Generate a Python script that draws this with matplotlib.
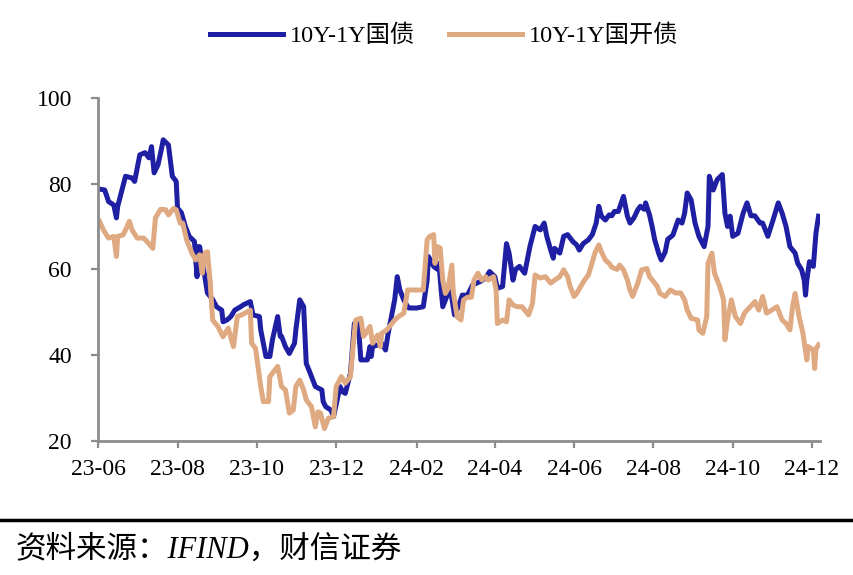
import pandas as pd
import matplotlib
matplotlib.use("Agg")
import matplotlib.pyplot as plt
import matplotlib.dates as mdates
from matplotlib.lines import Line2D

plt.rcParams['font.family'] = ['Liberation Serif', 'Noto Sans CJK SC', 'DejaVu Sans']
plt.rcParams['axes.unicode_minus'] = False

# 10Y-1Y 国债 利差 (bp)
gz_dates = [
    "2023-06-02", "2023-06-06", "2023-06-09", "2023-06-13", "2023-06-15", "2023-06-16",
    "2023-06-20", "2023-06-22", "2023-06-27", "2023-06-29", "2023-07-03", "2023-07-07",
    "2023-07-10", "2023-07-12", "2023-07-14", "2023-07-17", "2023-07-20", "2023-07-21",
    "2023-07-25", "2023-07-28", "2023-07-31", "2023-08-01", "2023-08-04", "2023-08-07",
    "2023-08-10", "2023-08-14", "2023-08-16", "2023-08-17", "2023-08-18", "2023-08-22",
    "2023-08-24", "2023-08-28", "2023-08-31", "2023-09-04", "2023-09-05", "2023-09-08",
    "2023-09-11", "2023-09-14", "2023-09-18", "2023-09-21", "2023-09-26", "2023-09-28",
    "2023-10-03", "2023-10-04", "2023-10-08", "2023-10-11", "2023-10-13", "2023-10-17",
    "2023-10-19", "2023-10-20", "2023-10-23", "2023-10-26", "2023-10-30", "2023-10-31",
    "2023-11-03", "2023-11-06", "2023-11-08", "2023-11-10", "2023-11-15", "2023-11-20",
    "2023-11-21", "2023-11-23", "2023-11-27", "2023-11-29", "2023-12-04", "2023-12-06",
    "2023-12-08", "2023-12-12", "2023-12-15", "2023-12-18", "2023-12-20", "2023-12-25",
    "2023-12-27", "2023-12-28", "2023-12-29", "2024-01-02", "2024-01-05", "2024-01-08",
    "2024-01-10", "2024-01-15", "2024-01-17", "2024-01-19", "2024-01-22", "2024-01-25",
    "2024-01-26", "2024-02-01", "2024-02-06", "2024-02-09", "2024-02-10", "2024-02-14",
    "2024-02-17", "2024-02-18", "2024-02-20", "2024-02-21", "2024-02-25", "2024-02-27",
    "2024-03-01", "2024-03-04", "2024-03-07", "2024-03-11", "2024-03-15", "2024-03-18",
    "2024-03-21", "2024-03-25", "2024-03-28", "2024-04-01", "2024-04-03", "2024-04-07",
    "2024-04-10", "2024-04-12", "2024-04-15", "2024-04-17", "2024-04-20", "2024-04-24",
    "2024-04-28", "2024-05-02", "2024-05-06", "2024-05-09", "2024-05-11", "2024-05-14",
    "2024-05-16", "2024-05-17", "2024-05-21", "2024-05-24", "2024-05-27", "2024-05-31",
    "2024-06-03", "2024-06-05", "2024-06-08", "2024-06-12", "2024-06-15", "2024-06-18",
    "2024-06-20", "2024-06-22", "2024-06-25", "2024-06-28", "2024-06-30", "2024-07-02",
    "2024-07-05", "2024-07-09", "2024-07-12", "2024-07-14", "2024-07-17", "2024-07-20",
    "2024-07-22", "2024-07-25", "2024-07-26", "2024-07-29", "2024-07-31", "2024-08-02",
    "2024-08-05", "2024-08-07", "2024-08-10", "2024-08-12", "2024-08-16", "2024-08-20",
    "2024-08-23", "2024-08-25", "2024-08-27", "2024-08-30", "2024-09-02", "2024-09-05",
    "2024-09-09", "2024-09-12", "2024-09-13", "2024-09-16", "2024-09-19", "2024-09-23",
    "2024-09-25", "2024-09-27", "2024-09-29", "2024-10-01", "2024-10-05", "2024-10-09",
    "2024-10-12", "2024-10-15", "2024-10-18", "2024-10-22", "2024-10-24", "2024-10-28",
    "2024-11-01", "2024-11-05", "2024-11-08", "2024-11-11", "2024-11-14", "2024-11-18",
    "2024-11-20", "2024-11-23", "2024-11-25", "2024-11-26", "2024-11-27", "2024-11-29",
    "2024-12-02", "2024-12-04", "2024-12-06",
]
gz_vals = [
    78.7, 78.5, 75.8, 75.0, 72.0, 74.7,
    79.3, 81.7, 81.3, 80.5, 86.7, 87.2,
    86.0, 88.6, 82.5, 84.4, 88.6, 90.2,
    89.0, 81.7, 80.5, 74.3, 73.2, 70.0,
    67.7, 66.5, 58.3, 65.3, 65.3, 58.3,
    54.5, 53.0, 51.3, 50.5, 47.8, 48.2,
    49.0, 50.5, 51.2, 51.8, 52.5, 49.4,
    49.0, 45.9, 39.7, 39.7, 43.6, 49.0,
    44.4, 44.4, 42.0, 40.4, 42.8, 45.9,
    52.9, 51.3, 38.1, 36.6, 32.7, 31.9,
    29.2, 28.0, 27.2, 25.7, 32.7, 31.5,
    31.1, 35.8, 47.4, 47.4, 38.9, 38.9,
    42.0, 39.7, 42.0, 42.4, 42.8, 41.2,
    45.1, 52.9, 58.3, 55.2, 52.9, 51.3,
    51.0, 51.0, 51.3, 57.5, 63.0, 60.7,
    60.0, 61.4, 54.4, 51.3, 54.4, 55.2,
    49.4, 51.3, 54.0, 54.0, 56.4, 56.8,
    57.2, 58.0, 59.5, 58.3, 55.6, 56.0,
    66.0, 63.8, 57.5, 60.0, 60.7, 59.1,
    65.3, 70.0, 69.2, 70.8, 67.7, 64.5,
    62.6, 64.9, 63.8, 67.7, 68.1, 66.5,
    65.7, 64.5, 66.0, 66.9, 68.1, 70.8,
    74.7, 72.4, 71.5, 72.7, 72.5, 73.5,
    73.5, 77.0, 72.4, 70.8, 72.0, 73.9,
    74.7, 74.0, 75.5, 72.7, 70.0, 66.9,
    63.8, 62.2, 64.0, 67.0, 68.0, 71.5,
    70.8, 73.1, 77.8, 76.2, 70.8, 67.7,
    65.3, 70.0, 81.7, 78.5, 80.9, 82.1,
    73.1, 70.0, 72.4, 67.7, 68.4, 73.1,
    75.5, 72.5, 72.5, 70.8, 70.8, 67.7,
    71.5, 75.5, 73.1, 70.0, 65.3, 63.8,
    61.4, 59.9, 57.5, 54.0, 57.5, 61.8,
    60.7, 68.4, 72.4,
]

# 10Y-1Y 国开债 利差 (bp)
gk_dates = [
    "2023-06-02", "2023-06-05", "2023-06-08", "2023-06-09", "2023-06-13", "2023-06-15",
    "2023-06-16", "2023-06-20", "2023-06-22", "2023-06-25", "2023-06-27", "2023-07-01",
    "2023-07-06", "2023-07-10", "2023-07-13", "2023-07-15", "2023-07-19", "2023-07-23",
    "2023-07-25", "2023-07-29", "2023-07-31", "2023-08-03", "2023-08-05", "2023-08-08",
    "2023-08-12", "2023-08-15", "2023-08-18", "2023-08-20", "2023-08-22", "2023-08-24",
    "2023-08-26", "2023-08-28", "2023-09-01", "2023-09-05", "2023-09-09", "2023-09-13",
    "2023-09-16", "2023-09-20", "2023-09-26", "2023-09-27", "2023-09-30", "2023-10-04",
    "2023-10-06", "2023-10-10", "2023-10-11", "2023-10-15", "2023-10-17", "2023-10-20",
    "2023-10-23", "2023-10-26", "2023-10-29", "2023-10-31", "2023-11-03", "2023-11-06",
    "2023-11-08", "2023-11-12", "2023-11-15", "2023-11-17", "2023-11-19", "2023-11-22",
    "2023-11-25", "2023-11-29", "2023-12-01", "2023-12-05", "2023-12-08", "2023-12-12",
    "2023-12-14", "2023-12-16", "2023-12-20", "2023-12-22", "2023-12-24", "2023-12-27",
    "2023-12-29", "2024-01-02", "2024-01-04", "2024-01-05", "2024-01-09", "2024-01-15",
    "2024-01-18", "2024-01-22", "2024-01-25", "2024-01-29", "2024-02-04", "2024-02-06",
    "2024-02-09", "2024-02-11", "2024-02-14", "2024-02-15", "2024-02-17", "2024-02-19",
    "2024-02-21", "2024-02-23", "2024-02-25", "2024-02-28", "2024-02-29", "2024-03-03",
    "2024-03-06", "2024-03-08", "2024-03-11", "2024-03-14", "2024-03-16", "2024-03-19",
    "2024-03-22", "2024-03-25", "2024-03-27", "2024-03-31", "2024-04-02", "2024-04-03",
    "2024-04-07", "2024-04-10", "2024-04-12", "2024-04-15", "2024-04-18", "2024-04-22",
    "2024-04-24", "2024-04-27", "2024-04-30", "2024-05-02", "2024-05-06", "2024-05-10",
    "2024-05-14", "2024-05-17", "2024-05-21", "2024-05-24", "2024-05-27", "2024-05-29",
    "2024-06-01", "2024-06-03", "2024-06-06", "2024-06-09", "2024-06-12", "2024-06-14",
    "2024-06-17", "2024-06-20", "2024-06-22", "2024-06-25", "2024-06-28", "2024-06-30",
    "2024-07-04", "2024-07-06", "2024-07-09", "2024-07-12", "2024-07-14", "2024-07-16",
    "2024-07-20", "2024-07-23", "2024-07-27", "2024-07-29", "2024-08-01", "2024-08-04",
    "2024-08-06", "2024-08-10", "2024-08-14", "2024-08-18", "2024-08-22", "2024-08-25",
    "2024-08-27", "2024-08-30", "2024-09-04", "2024-09-05", "2024-09-08", "2024-09-11",
    "2024-09-12", "2024-09-15", "2024-09-17", "2024-09-21", "2024-09-24", "2024-09-25",
    "2024-09-27", "2024-09-30", "2024-10-03", "2024-10-07", "2024-10-10", "2024-10-12",
    "2024-10-17", "2024-10-18", "2024-10-21", "2024-10-24", "2024-10-27", "2024-10-31",
    "2024-11-04", "2024-11-08", "2024-11-11", "2024-11-14", "2024-11-16", "2024-11-18",
    "2024-11-21", "2024-11-24", "2024-11-27", "2024-11-28", "2024-12-02", "2024-12-03",
    "2024-12-04", "2024-12-06",
]
gk_vals = [
    71.2, 69.2, 67.7, 67.3, 67.7, 63.0,
    67.7, 68.0, 69.2, 71.2, 69.2, 67.3,
    67.3, 66.0, 64.9, 72.0, 74.0, 73.9,
    72.7, 74.2, 73.9, 70.8, 70.8, 66.9,
    63.8, 62.2, 63.4, 59.1, 63.8, 64.1,
    57.5, 48.2, 46.7, 44.3, 46.3, 42.0,
    49.0, 49.5, 50.5, 42.8, 41.6, 32.7,
    29.2, 29.2, 35.0, 36.6, 37.4, 32.7,
    31.9, 26.5, 27.2, 32.7, 34.2, 31.9,
    29.6, 28.0, 23.3, 26.8, 26.5, 22.9,
    25.3, 25.7, 32.7, 35.0, 33.5, 35.0,
    42.0, 48.2, 48.6, 44.4, 45.2, 46.7,
    42.8, 44.7, 42.0, 45.1, 45.9, 48.2,
    49.0, 49.8, 55.2, 55.2, 55.2, 55.2,
    66.9, 67.7, 68.1, 61.4, 65.3, 65.0,
    57.5, 54.4, 55.5, 61.0, 55.0, 49.0,
    48.2, 52.9, 53.5, 53.5, 57.5, 59.1,
    57.5, 58.3, 57.5, 58.3, 55.2, 47.4,
    48.2, 47.8, 52.9, 51.7, 51.3, 51.3,
    50.5, 49.4, 52.1, 58.7, 58.0, 58.3,
    56.8, 57.5, 58.3, 59.9, 58.3, 56.0,
    53.7, 54.4, 56.0, 57.5, 58.7, 60.7,
    63.8, 65.7, 64.1, 62.2, 61.4, 60.5,
    60.0, 61.0, 59.9, 57.5, 55.2, 53.7,
    56.8, 59.9, 60.2, 58.3, 57.2, 56.0,
    54.4, 53.7, 55.2, 54.5, 54.5, 52.9,
    50.5, 48.6, 48.2, 45.9, 45.1, 49.0,
    61.4, 63.8, 59.1, 56.0, 52.9, 43.6,
    48.2, 52.9, 49.0, 47.4, 49.8, 50.5,
    52.1, 52.5, 50.5, 53.7, 49.8, 50.5,
    51.3, 48.2, 47.4, 45.9, 51.3, 54.4,
    49.0, 45.1, 38.9, 42.0, 41.2, 36.9,
    41.5, 42.4,
]

labels = ["10Y-1Y国债", "10Y-1Y国开债"]
colors = ["#1f1fa3", "#dfa982"]

gz = pd.Series(gz_vals, index=pd.to_datetime(gz_dates))
gk = pd.Series(gk_vals, index=pd.to_datetime(gk_dates))

fig = plt.figure(figsize=(8.54, 5.75), dpi=100)
ax = fig.add_axes([0.115, 0.233, 0.845, 0.597])

ax.plot(gz.index, gz.values, color=colors[0], lw=3.6, label=labels[0])
ax.plot(gk.index, gk.values, color=colors[1], lw=3.6, label=labels[1])

ax.set_ylim(20, 100)
ax.set_yticks([20, 40, 60, 80, 100])
ax.set_xlim(pd.Timestamp("2023-06-01"), pd.Timestamp("2024-12-07"))
ax.xaxis.set_major_locator(mdates.MonthLocator(bymonth=[2, 4, 6, 8, 10, 12]))
ax.xaxis.set_major_formatter(mdates.DateFormatter("%y-%m"))

for s in ["top", "right"]:
    ax.spines[s].set_visible(False)
for s in ["left", "bottom"]:
    ax.spines[s].set_color("#8c8c8c")
    ax.spines[s].set_linewidth(2)
ax.tick_params(axis="both", colors="#8c8c8c", width=1.6, length=5, labelsize=17,
               labelcolor="black")
ax.tick_params(axis="x", pad=8)
ax.tick_params(axis="y", pad=14)

fig.legend(loc="upper center", bbox_to_anchor=(0.52, 0.995), ncol=2, frameon=False,
           fontsize=17.5, handlelength=3.0, columnspacing=1.4, handletextpad=0.3)

fig.add_artist(Line2D([0, 1], [0.096, 0.096], transform=fig.transFigure,
                      color="black", lw=2.5))
fig.text(0.018, 0.043, "资料来源：IFIND，财信证券", fontsize=22, style="italic",
         va="center", ha="left")

fig.savefig("out.png", dpi=100)
